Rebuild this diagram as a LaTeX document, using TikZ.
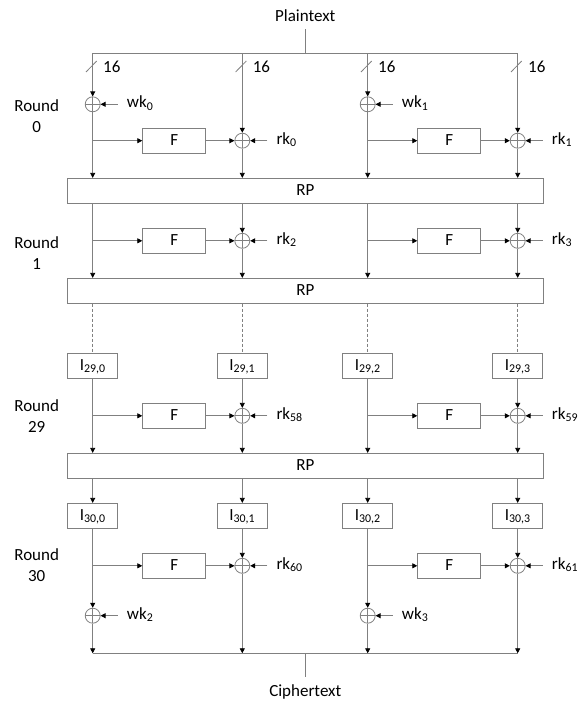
\documentclass[tikz,border=0pt]{standalone}
\usepackage{fontspec}
\setmainfont{Carlito}
\usetikzlibrary{arrows.meta,calc}
\definecolor{linec}{gray}{0.5}
\begin{document}
\begin{tikzpicture}[x=1pt,y=-1pt,
  every node/.style={font=\fontsize{17}{21}\selectfont},
  ln/.style={draw=linec, line width=0.8pt},
  arr/.style={ln, -{Triangle[length=5pt,width=5pt,color=black]}},
  dsh/.style={ln, dash pattern=on 3pt off 2pt},
  blk/.style={draw=linec, line width=0.8pt, minimum height=25pt, inner sep=0,
              text height=12pt, text depth=3pt},
  fbox/.style={blk, minimum width=63pt},
  ibox/.style={blk, minimum width=50pt},
  rpbox/.style={blk, minimum width=475.6pt},
  xorc/.style={circle, draw=linec, line width=0.8pt, minimum size=15pt, inner sep=0,
    path picture={\draw[linec, line width=0.8pt]
      (path picture bounding box.north) -- (path picture bounding box.south)
      (path picture bounding box.west) -- (path picture bounding box.east);}},
  key/.style={anchor=west, inner xsep=9pt, inner ysep=0, text height=11pt, text depth=4pt},
  lbl/.style={inner sep=0},
  rnd/.style={align=center, inner sep=0},
]
\useasboundingbox (0,0) rectangle (585,701);

% column positions
\def\xa{92.7}  \def\xb{242.3} \def\xc{367.7} \def\xd{517.7}
\def\fa{174.2} \def\fb{449.2}
\coordinate (c0) at (\xa,0);
\coordinate (c1) at (\xb,0);
\coordinate (c2) at (\xc,0);
\coordinate (c3) at (\xd,0);

% ---------- input ----------
\node[lbl, anchor=south, inner ysep=7.6pt, text depth=0pt] (pt) at (305.3,29.3) {Plaintext};
\coordinate (ptj) at (305.3,53.3);
\coordinate (t0) at (\xa,53.3);
\coordinate (t1) at (\xb,53.3);
\coordinate (t2) at (\xc,53.3);
\coordinate (t3) at (\xd,53.3);
\draw[ln] (t0) -- (t3);
\draw[ln] (pt.south) -- (ptj);

% 16-bit branch marks
\foreach \c/\n in {t0/n0,t1/n1,t2/n2,t3/n3}{
  \draw[ln] ([shift={(-6.7,18.7)}]\c) -- ++(10.7,-11);
  \node[lbl, anchor=west] (\n) at ([shift={(10.3,13.3)}]\c) {16};
}

% ---------- round 0 ----------
\node[rnd] (r0) at (36.7,116.4) {Round\\0};
\node[xorc] (xw0) at (\xa,104.3) {};
\node[xorc] (xw1) at (\xc,104.3) {};
\node[key] (kw0) at (\xa+25,104.3) {wk\textsubscript{0}};
\node[key] (kw1) at (\xc+25,104.3) {wk\textsubscript{1}};
\node[fbox] (f0a) at (\fa,140.7) {F};
\node[fbox] (f0b) at (\fb,140.7) {F};
\node[xorc] (x01) at (\xb,140.7) {};
\node[xorc] (x03) at (\xd,140.7) {};
\node[key] (k0) at (\xb+25,140.7) {rk\textsubscript{0}};
\node[key] (k1) at (\xd+25,140.7) {rk\textsubscript{1}};
\node[rpbox] (rp1) at (305.5,190.8) {RP};

\draw[arr] (t0) -- (xw0.north);
\draw[arr] (t2) -- (xw1.north);
\draw[arr] (kw0.west) -- (xw0.east);
\draw[arr] (kw1.west) -- (xw1.east);
\draw[arr] (xw0.south) -- (rp1.north -| c0);
\draw[arr] (xw1.south) -- (rp1.north -| c2);
\draw[arr] (f0a.west -| c0) -- (f0a.west);
\draw[arr] (f0b.west -| c2) -- (f0b.west);
\draw[arr] (f0a.east) -- (x01.west);
\draw[arr] (f0b.east) -- (x03.west);
\draw[arr] (k0.west) -- (x01.east);
\draw[arr] (k1.west) -- (x03.east);
\draw[arr] (t1) -- (x01.north);
\draw[arr] (t3) -- (x03.north);
\draw[arr] (x01.south) -- (rp1.north -| c1);
\draw[arr] (x03.south) -- (rp1.north -| c3);

% ---------- round 1 ----------
\node[rnd] (r1) at (36.7,253.3) {Round\\1};
\node[fbox] (f1a) at (\fa,240.8) {F};
\node[fbox] (f1b) at (\fb,240.8) {F};
\node[xorc] (x11) at (\xb,240.8) {};
\node[xorc] (x13) at (\xd,240.8) {};
\node[key] (k2) at (\xb+25,240.8) {rk\textsubscript{2}};
\node[key] (k3) at (\xd+25,240.8) {rk\textsubscript{3}};
\node[rpbox] (rp2) at (305.5,290.8) {RP};

\draw[arr] (rp1.south -| c0) -- (rp2.north -| c0);
\draw[arr] (rp1.south -| c2) -- (rp2.north -| c2);
\draw[arr] (f1a.west -| c0) -- (f1a.west);
\draw[arr] (f1b.west -| c2) -- (f1b.west);
\draw[arr] (f1a.east) -- (x11.west);
\draw[arr] (f1b.east) -- (x13.west);
\draw[arr] (k2.west) -- (x11.east);
\draw[arr] (k3.west) -- (x13.east);
\draw[arr] (rp1.south -| c1) -- (x11.north);
\draw[arr] (rp1.south -| c3) -- (x13.north);
\draw[arr] (x11.south) -- (rp2.north -| c1);
\draw[arr] (x13.south) -- (rp2.north -| c3);

% ---------- round 29 ----------
\node[ibox] (i290) at (\xa,365.8) {I\textsubscript{29,0}};
\node[ibox] (i291) at (\xb,365.8) {I\textsubscript{29,1}};
\node[ibox] (i292) at (\xc,365.8) {I\textsubscript{29,2}};
\node[ibox] (i293) at (\xd,365.8) {I\textsubscript{29,3}};
\draw[dsh] (rp2.south -| c0) -- (i290.north);
\draw[dsh] (rp2.south -| c1) -- (i291.north);
\draw[dsh] (rp2.south -| c2) -- (i292.north);
\draw[dsh] (rp2.south -| c3) -- (i293.north);

\node[rnd] (r29) at (36.7,415.7) {Round\\29};
\node[fbox] (f29a) at (\fa,415.8) {F};
\node[fbox] (f29b) at (\fb,415.8) {F};
\node[xorc] (x291) at (\xb,415.8) {};
\node[xorc] (x293) at (\xd,415.8) {};
\node[key] (k58) at (\xb+25,415.8) {rk\textsubscript{58}};
\node[key] (k59) at (\xd+25,415.8) {rk\textsubscript{59}};
\node[rpbox] (rp3) at (305.5,465.8) {RP};

\draw[arr] (i290.south) -- (rp3.north -| c0);
\draw[arr] (i292.south) -- (rp3.north -| c2);
\draw[arr] (f29a.west -| c0) -- (f29a.west);
\draw[arr] (f29b.west -| c2) -- (f29b.west);
\draw[arr] (f29a.east) -- (x291.west);
\draw[arr] (f29b.east) -- (x293.west);
\draw[arr] (k58.west) -- (x291.east);
\draw[arr] (k59.west) -- (x293.east);
\draw[arr] (i291.south) -- (x291.north);
\draw[arr] (i293.south) -- (x293.north);
\draw[arr] (x291.south) -- (rp3.north -| c1);
\draw[arr] (x293.south) -- (rp3.north -| c3);

% ---------- round 30 ----------
\node[ibox] (i300) at (\xa,515.8) {I\textsubscript{30,0}};
\node[ibox] (i301) at (\xb,515.8) {I\textsubscript{30,1}};
\node[ibox] (i302) at (\xc,515.8) {I\textsubscript{30,2}};
\node[ibox] (i303) at (\xd,515.8) {I\textsubscript{30,3}};
\draw[arr] (rp3.south -| c0) -- (i300.north);
\draw[arr] (rp3.south -| c1) -- (i301.north);
\draw[arr] (rp3.south -| c2) -- (i302.north);
\draw[arr] (rp3.south -| c3) -- (i303.north);

\node[rnd] (r30) at (36.7,565.5) {Round\\30};
\node[fbox] (f30a) at (\fa,565.8) {F};
\node[fbox] (f30b) at (\fb,565.8) {F};
\node[xorc] (x301) at (\xb,565.8) {};
\node[xorc] (x303) at (\xd,565.8) {};
\node[key] (k60) at (\xb+25,565.8) {rk\textsubscript{60}};
\node[key] (k61) at (\xd+25,565.8) {rk\textsubscript{61}};
\node[xorc] (xw2) at (\xa,615.7) {};
\node[xorc] (xw3) at (\xc,615.7) {};
\node[key] (kw2) at (\xa+25,615.7) {wk\textsubscript{2}};
\node[key] (kw3) at (\xc+25,615.7) {wk\textsubscript{3}};

\coordinate (b0) at (\xa,653.3);
\coordinate (b1) at (\xb,653.3);
\coordinate (b2) at (\xc,653.3);
\coordinate (b3) at (\xd,653.3);
\coordinate (cj) at (305.3,653.3);

\draw[arr] (i300.south) -- (xw2.north);
\draw[arr] (i302.south) -- (xw3.north);
\draw[arr] (f30a.west -| c0) -- (f30a.west);
\draw[arr] (f30b.west -| c2) -- (f30b.west);
\draw[arr] (f30a.east) -- (x301.west);
\draw[arr] (f30b.east) -- (x303.west);
\draw[arr] (k60.west) -- (x301.east);
\draw[arr] (k61.west) -- (x303.east);
\draw[arr] (kw2.west) -- (xw2.east);
\draw[arr] (kw3.west) -- (xw3.east);
\draw[arr] (i301.south) -- (x301.north);
\draw[arr] (i303.south) -- (x303.north);
\draw[arr] (xw2.south) -- (b0);
\draw[arr] (xw3.south) -- (b2);
\draw[arr] (x301.south) -- (b1);
\draw[arr] (x303.south) -- (b3);

% ---------- output ----------
\draw[ln] (b0) -- (b3);
\node[lbl, anchor=north, inner ysep=8pt, text height=12pt] (ct) at (305.3,676.7) {Ciphertext};
\draw[ln] (cj) -- (ct.north);
\end{tikzpicture}
\end{document}
